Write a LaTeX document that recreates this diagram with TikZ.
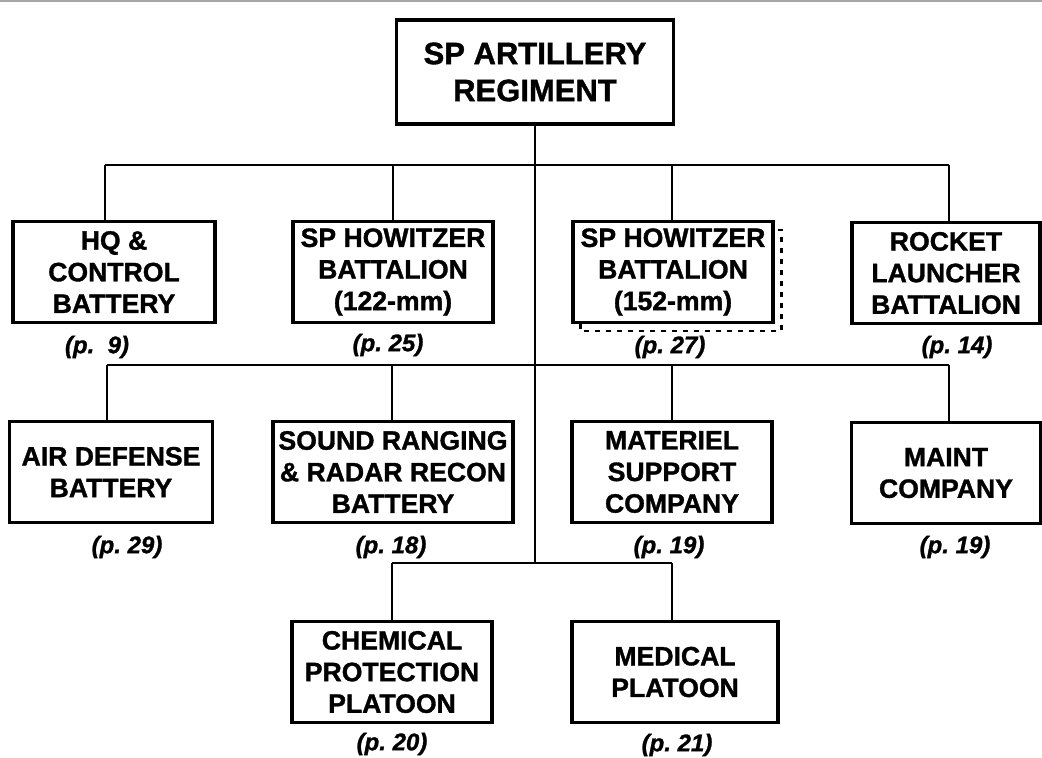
\documentclass[tikz,border=0pt]{standalone}
\usepackage{fontspec}
\setmainfont{Liberation Sans}[BoldFeatures={FakeBold=1.2}, BoldItalicFeatures={FakeBold=1.2}]
\usetikzlibrary{calc}

\begin{document}
\begin{tikzpicture}[x=0.5pt, y=-0.5pt,
    unit/.style={draw=black, line width=1.6pt, align=center, inner sep=0pt,
        minimum width=100pt, minimum height=50.5pt,
        font=\fontsize{13.3}{15.8}\selectfont\bfseries},
    page/.style={font=\fontsize{12}{14}\selectfont\bfseries\itshape, inner sep=0pt},
    link/.style={line width=1.4pt},
    shadowline/.style={line width=1.3pt, dash pattern=on 2.5pt off 3pt}]

    % Page size
    \useasboundingbox (0,0) rectangle (1042,757);

    % Define bus heights
    \def\busOne{165}
    \def\busTwo{365}
    \def\busThree{563}

    % Scan edge at the top
    \draw[gray!70, line width=0.8pt] (0,1) -- (1042,1);

    % Regiment
    \node[unit, minimum width=138.5pt, minimum height=52pt,
        font=\fontsize{15.5}{18.5}\selectfont\bfseries] (reg) at (535,72) {SP ARTILLERY\\REGIMENT};

    % First row
    \node[unit, minimum width=101pt] (hq) at (114,272) {HQ \&\\CONTROL\\BATTERY};
    \node[unit] (how122) at (393,272) {SP HOWITZER\\BATTALION\\(122-mm)};
    \node[unit] (how152) at (673,272) {SP HOWITZER\\BATTALION\\(152-mm)};
    \node[unit, minimum width=94pt] (rocket) at (946,273) {ROCKET\\LAUNCHER\\BATTALION};

    % Second row
    \node[unit, minimum width=101.5pt] (airdef) at (111,472) {AIR DEFENSE\\BATTERY};
    \node[unit, minimum width=120pt] (sound) at (393,472) {SOUND RANGING\\\& RADAR RECON\\BATTERY};
    \node[unit] (materiel) at (672,472) {MATERIEL\\SUPPORT\\COMPANY};
    \node[unit, minimum width=94.5pt] (maint) at (946,473) {MAINT\\COMPANY};

    % Third row
    \node[unit] (chem) at (392,672) {CHEMICAL\\PROTECTION\\PLATOON};
    \node[unit, minimum width=103pt] (medical) at (675,672) {MEDICAL\\PLATOON};

    % Page references
    \node[page] (hqp) at (97,347) {(p.~~9)};
    \node[page] (how122p) at (388,345) {(p.~25)};
    \node[page] (how152p) at (670,347) {(p.~27)};
    \node[page] (rocketp) at (957,347) {(p.~14)};
    \node[page] (airdefp) at (127,547) {(p.~29)};
    \node[page] (soundp) at (391,547) {(p.~18)};
    \node[page] (materielp) at (669,547) {(p.~19)};
    \node[page] (maintp) at (955,547) {(p.~19)};
    \node[page] (chemp) at (392,744) {(p.~20)};
    \node[page] (medicalp) at (677,745) {(p.~21)};

    % Dashed outline behind the 152-mm battalion
    \draw[shadowline] ($(how152.south west)+(9,0)$) |- ($(how152.south east)+(7,7)$)
        |- ($(how152.north east)+(0,10)$);

    % Drops from the buses
    \foreach \n/\x in {hq/105, how122/393, how152/672, rocket/949}
        {\coordinate (\n drop) at (\x,\busOne);
         \draw[link] (\n drop) -- (\n drop |- \n.north);}
    \foreach \n/\x in {airdef/107, sound/392, materiel/672, maint/949}
        {\coordinate (\n drop) at (\x,\busTwo);
         \draw[link] (\n drop) -- (\n drop |- \n.north);}
    \foreach \n/\x in {chem/392, medical/672}
        {\coordinate (\n drop) at (\x,\busThree);
         \draw[link] (\n drop) -- (\n drop |- \n.north);}

    % Buses and trunk
    \draw[link] (hqdrop) -- (rocketdrop);
    \draw[link] (airdefdrop) -- (maintdrop);
    \draw[link] (chemdrop) -- (medicaldrop);
    \draw[link] (reg.south) -- (reg.south |- chemdrop);

\end{tikzpicture}
\end{document}
